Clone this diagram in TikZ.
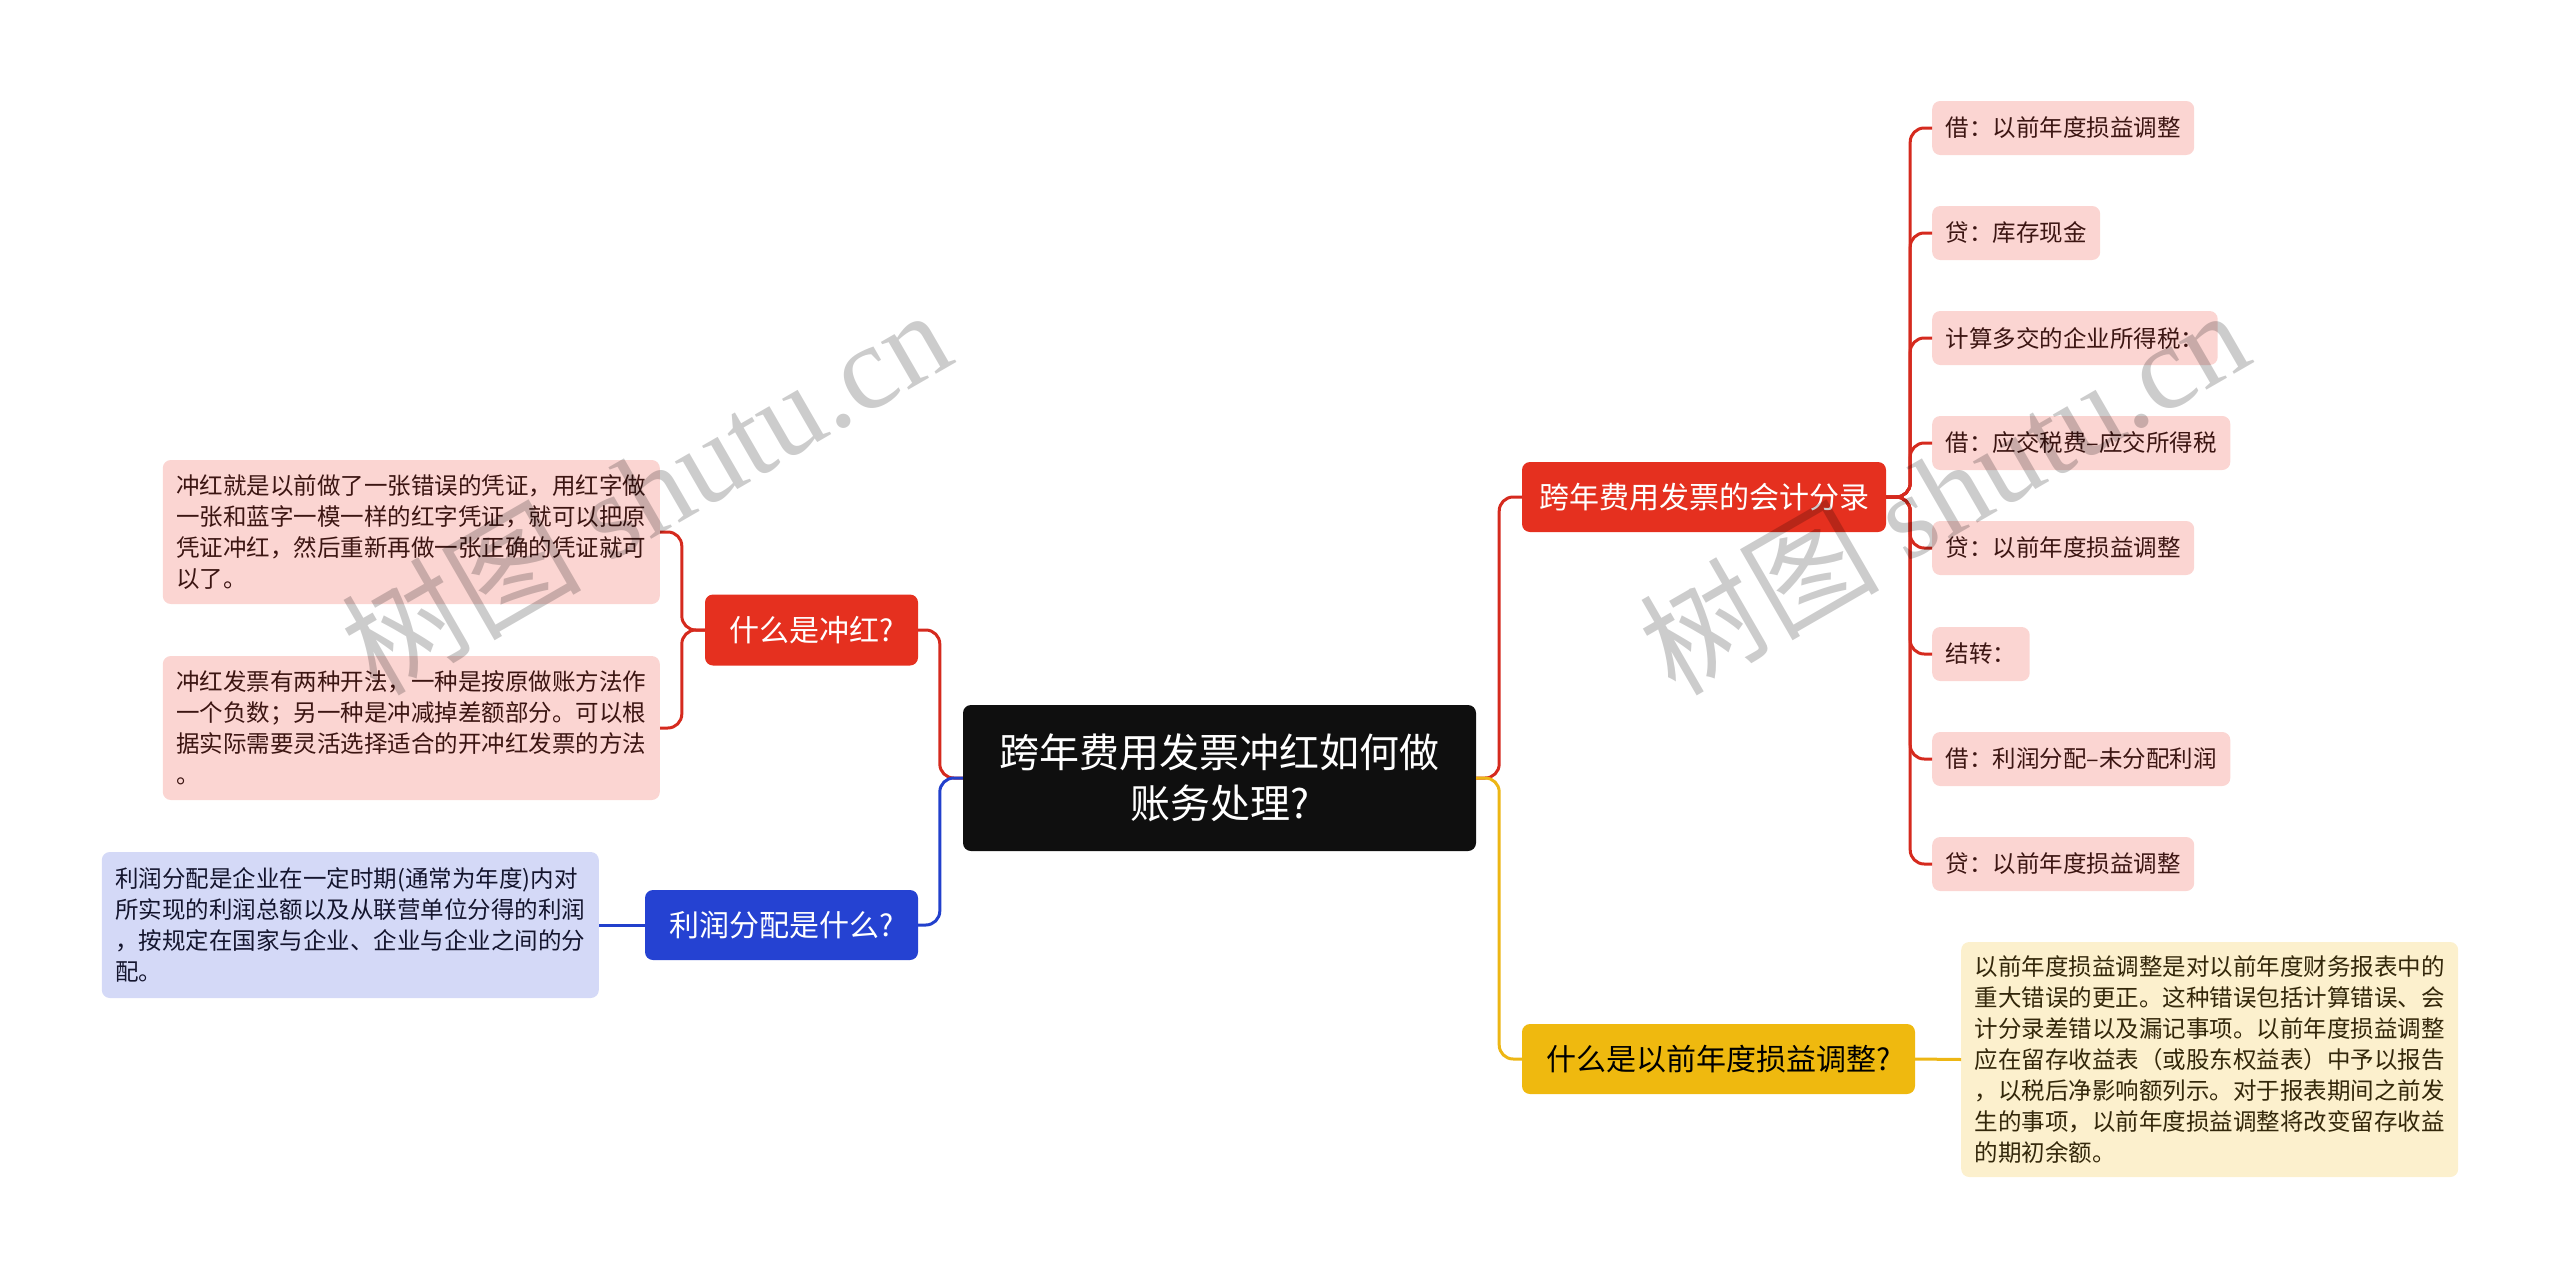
\documentclass[tikz,border=0pt]{standalone}
\usepackage{fontspec}
\newfontfamily\cjk{Noto Sans CJK SC}
\newfontfamily\wmlatin{Liberation Serif}
\definecolor{rootfill}{HTML}{0F0F0F}
\definecolor{redfill}{HTML}{E5301F}
\definecolor{redline}{HTML}{D52A1E}
\definecolor{bluefill}{HTML}{2542D2}
\definecolor{blueline}{HTML}{2240CC}
\definecolor{yellowfill}{HTML}{EFB90F}
\definecolor{yellowline}{HTML}{EDB614}
\definecolor{pinkfill}{HTML}{FBD5D2}
\definecolor{pinktext}{HTML}{3C1512}
\definecolor{lbluefill}{HTML}{D4D9F7}
\definecolor{lbluetext}{HTML}{14152E}
\definecolor{lyelfill}{HTML}{FCF0CD}
\definecolor{lyeltext}{HTML}{33270A}
\tikzset{
  rootbox/.style={rounded corners=8pt, inner sep=0pt, fill=rootfill, text=white, align=center,
    minimum width=513pt, minimum height=146pt, font=\cjk\fontsize{40}{51}\selectfont},
  mainbox/.style={rounded corners=8pt, inner sep=0pt, minimum height=70pt,
    font=\cjk\fontsize{30}{36}\selectfont},
  leafbase/.style={rounded corners=8pt, inner xsep=13.5pt, inner ysep=0pt,
    font=\cjk\fontsize{23.5}{31}\selectfont},
  pinkleaf/.style={leafbase, fill=pinkfill, text=pinktext, minimum height=54pt, anchor=west},
  bigleaf/.style={leafbase, text width=470pt, align=left},
  conn/.style={line width=3pt, rounded corners=14pt},
  wm/.style={text=black, text opacity=0.2, rotate=30, font=\cjk\fontsize{120}{130}\selectfont}
}
\begin{document}
\begin{tikzpicture}[x=1pt,y=-1pt]
\useasboundingbox (0,0) rectangle (2560,1280);

% root
\node[rootbox] (root) at (1219.5,778) {跨年费用发票冲红如何做\\账务处理?};

% main branches
\node[mainbox, fill=redfill, text=white, minimum width=364pt] (acc) at (1704,497) {跨年费用发票的会计分录};
\node[mainbox, fill=yellowfill, text=black, minimum width=393pt] (adj) at (1718.5,1059) {什么是以前年度损益调整?};
\node[mainbox, fill=redfill, text=white, minimum width=213pt, minimum height=71pt] (chh) at (811.5,630) {什么是冲红?};
\node[mainbox, fill=bluefill, text=white, minimum width=273pt] (lrfp) at (781.5,925) {利润分配是什么?};

% right leaves
\node[pinkleaf] (r1) at (1932,128) {借：以前年度损益调整};
\node[pinkleaf] (r2) at (1932,233) {贷：库存现金};
\node[pinkleaf] (r3) at (1932,338) {计算多交的企业所得税：};
\node[pinkleaf] (r4) at (1932,443) {借：应交税费–应交所得税};
\node[pinkleaf] (r5) at (1932,548) {贷：以前年度损益调整};
\node[pinkleaf] (r6) at (1932,654) {结转：};
\node[pinkleaf] (r7) at (1932,759) {借：利润分配–未分配利润};
\node[pinkleaf] (r8) at (1932,864) {贷：以前年度损益调整};

% left leaves
\node[bigleaf, fill=pinkfill, text=pinktext, minimum height=144pt, anchor=east] (l1) at (660,532)
  {冲红就是以前做了一张错误的凭证，用红字做\\一张和蓝字一模一样的红字凭证，就可以把原\\凭证冲红，然后重新再做一张正确的凭证就可\\以了。};
\node[bigleaf, fill=pinkfill, text=pinktext, minimum height=144pt, anchor=east] (l2) at (660,728)
  {冲红发票有两种开法，一种是按原做账方法作\\一个负数；另一种是冲减掉差额部分。可以根\\据实际需要灵活选择适合的开冲红发票的方法\\。};
\node[bigleaf, fill=lbluefill, text=lbluetext, minimum height=146pt, anchor=east] (b1) at (599,925)
  {利润分配是企业在一定时期(通常为年度)内对\\所实现的利润总额以及从联营单位分得的利润\\，按规定在国家与企业、企业与企业之间的分\\配。};
\node[bigleaf, fill=lyelfill, text=lyeltext, minimum height=235pt, anchor=west] (y1) at (1961,1059.5)
  {以前年度损益调整是对以前年度财务报表中的\\重大错误的更正。这种错误包括计算错误、会\\计分录差错以及漏记事项。以前年度损益调整\\应在留存收益表（或股东权益表）中予以报告\\，以税后净影响额列示。对于报表期间之前发\\生的事项，以前年度损益调整将改变留存收益\\的期初余额。};

% connectors: root to main branches
\draw[conn, redline] (root.west) -- ++(-23,0) |- (chh.east);
\draw[conn, blueline] (root.west) -- ++(-23,0) |- (lrfp.east);
\draw[conn, redline] (root.east) -- ++(23,0) |- (acc.west);
\draw[conn, yellowline] (root.east) -- ++(23,0) |- (adj.west);

% connectors: branches to leaves
\foreach \k in {1,...,8}{
  \draw[conn, redline] (acc.east) -- ++(24,0) |- (r\k.west);
}
\draw[conn, redline] (chh.west) -- ++(-23,0) |- (l1.east);
\draw[conn, redline] (chh.west) -- ++(-23,0) |- (l2.east);
\draw[conn, blueline] (lrfp.west) -- (b1.east);
\draw[conn, yellowline] (adj.east) -- (y1.west);

% watermarks
\node[wm] (wm1) at (645,490) {树图 {\wmlatin shutu.cn}};
\node[wm] (wm2) at (1943,490) {树图 {\wmlatin shutu.cn}};
\end{tikzpicture}
\end{document}
